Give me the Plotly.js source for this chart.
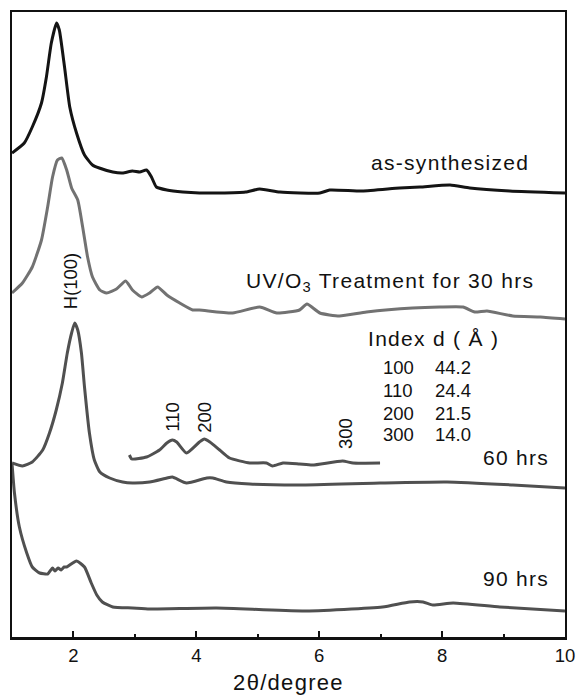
<!DOCTYPE html>
<html>
<head>
<meta charset="utf-8">
<script src="https://cdn.plot.ly/plotly-3.0.1.min.js"></script>
<style>
html,body{margin:0;padding:0;background:#fff;}
#chart{width:578px;height:695px;}
</style>
</head>
<body>
<div id="chart"></div>
<script>
// as-synthesized
var xAs = [1.00,1.20,1.33,1.48,1.56,1.64,1.725,1.77,1.855,1.94,2.05,2.18,2.31,2.42,2.64,2.80,2.96,3.08,3.19,3.27,3.35,3.52,3.78,4.05,4.38,4.80,5.03,5.36,6.01,6.17,6.70,7.31,7.64,8.13,8.45,9.10,10.0];
var yAs = [484,494,510,534,560,594,614,607,570,530,504,482,472,469,465,464,466,465,467,460,450,447,445,444,444,445,448,445,444,447,446,449,450,452,449,446,444];
// UV/O3 30 hrs
var x30 = [1.00,1.17,1.33,1.48,1.58,1.66,1.74,1.81,1.89,1.97,2.07,2.15,2.23,2.31,2.43,2.54,2.70,2.85,2.96,3.11,3.24,3.37,3.52,3.73,3.94,4.05,4.59,5.03,5.31,5.68,5.80,6.01,6.33,6.77,7.52,7.96,8.34,8.53,8.73,9.15,9.60,10.0];
var y30 = [344,354,370,397,430,460,477,479,467,449,437,410,380,360,347,344,348,356,347,340,344,350,342,334,327,327,324,330,324,327,333,324,321,325,329,330,330,325,326,321,320,318];
// 60 hrs
var x60 = [1.00,1.17,1.33,1.50,1.61,1.72,1.82,1.90,1.97,2.02,2.07,2.13,2.18,2.26,2.34,2.43,2.59,2.80,2.96,3.24,3.52,3.61,3.84,4.17,4.27,4.49,4.87,5.68,6.99,8.08,9.15,10.0];
var y60 = [174,171,175,187,204,227,254,284,304,314,307,284,250,204,177,165,159,155,154,155,159,160,154,159,159,155,153,152,154,155,152,149];
// 60 hrs, magnified section
var xInset = [2.91,2.95,3.19,3.40,3.52,3.61,3.68,3.84,4.05,4.13,4.22,4.38,4.54,4.87,5.14,5.24,5.41,5.68,5.89,6.38,6.55,6.99];
var yInset = [182,178,180,187,194,197,195,184,195,198,195,187,179,174,174,171,174,173,172,176,174,174];
// 90 hrs
var x90 = [1.00,1.04,1.12,1.24,1.33,1.45,1.58,1.66,1.70,1.75,1.80,1.85,1.89,2.05,2.18,2.29,2.38,2.47,2.64,2.96,3.24,4.33,5.73,7.03,7.47,7.69,7.85,8.18,8.94,10.0];
var y90 = [174,144,110,84,70,64,63,69,66,69,67,70,70,76,70,54,42,35,30,29,28,29,26,30,35,35,32,34,30,26];

var tickVals = [2,4,6,8,10];
var tickText = ['2','4','6','8','10'];
var xTitle = '2θ/degree';
var curveLabels = ['as-synthesized','UV/O<sub>3</sub> Treatment for 30 hrs','60 hrs','90 hrs'];
var peakLabels = ['H(100)','110','200','300'];
var tableHeader = 'Index d ( Å )';
var tableIndex = ['100','110','200','300'];
var tableD = ['44.2','24.4','21.5','14.0'];

var FONT = 'Liberation Sans, Arial, Helvetica, sans-serif';
function sp(t){ return '<span style="letter-spacing:1.3px">' + t + '</span>'; }

function ln(c){ return {color:c, width:3, shape:'spline', smoothing:0.5}; }
var traces = [
  {x:xAs, y:yAs, mode:'lines', line:ln('#141414')},
  {x:x30, y:y30, mode:'lines', line:ln('#727272')},
  {x:x60, y:y60, mode:'lines', line:ln('#505050')},
  {x:xInset, y:yInset, mode:'lines', line:ln('#505050')},
  {x:x90, y:y90, mode:'lines', line:ln('#505050')}
];

var big = {family:FONT, size:21, color:'#111'};
var small = {family:FONT, size:18.5, color:'#111'};
var ann = [];
function add(x,y,text,font,xa,ya,rot){
  ann.push({x:x,y:y,xref:'x',yref:'y',text:text,showarrow:false,font:font,xanchor:xa,yanchor:ya,textangle:rot||0,borderpad:0});
}
add(9.43,475,sp(curveLabels[0]),big,'right','middle');
add(9.51,355,sp(curveLabels[1]),big,'right','middle');
add(9.75,180,sp(curveLabels[2]),big,'right','middle');
add(9.75,59,sp(curveLabels[3]),big,'right','middle');
add(6.77,299,sp(tableHeader),big,'left','middle');
var rowY = [270,247,224,203];
for (var i=0;i<4;i++){
  add(7.02,rowY[i],tableIndex[i],small,'left','middle');
  add(7.86,rowY[i],tableD[i],small,'left','middle');
}
add(1.95,356,peakLabels[0],small,'center','middle',-90);
add(3.60,220,peakLabels[1],small,'center','middle',-90);
add(4.12,220,peakLabels[2],small,'center','middle',-90);
add(6.42,203,peakLabels[3],small,'center','middle',-90);

var layout = {
  width:578, height:695,
  margin:{l:12, r:13, t:12, b:58},
  paper_bgcolor:'#fff', plot_bgcolor:'#fff',
  showlegend:false,
  xaxis:{
    range:[1,10], tickvals:tickVals, ticktext:tickText,
    ticks:'inside', ticklen:6, tickwidth:2, tickcolor:'#111',
    minor:{dtick:1, tick0:0, ticks:'inside', ticklen:3, tickwidth:2, tickcolor:'#111'},
    showline:true, linewidth:2.5, linecolor:'#111', mirror:true,
    showgrid:false, zeroline:false,
    tickfont:small,
    title:{text:sp(xTitle), font:{family:FONT, size:22, color:'#111'}, standoff:17}
  },
  yaxis:{
    range:[0,625], showticklabels:false, ticks:'',
    showline:true, linewidth:2, linecolor:'#111', mirror:true,
    showgrid:false, zeroline:false
  },
  annotations:ann
};
Plotly.newPlot('chart', traces, layout, {displayModeBar:false, staticPlot:true});
</script>
</body>
</html>
